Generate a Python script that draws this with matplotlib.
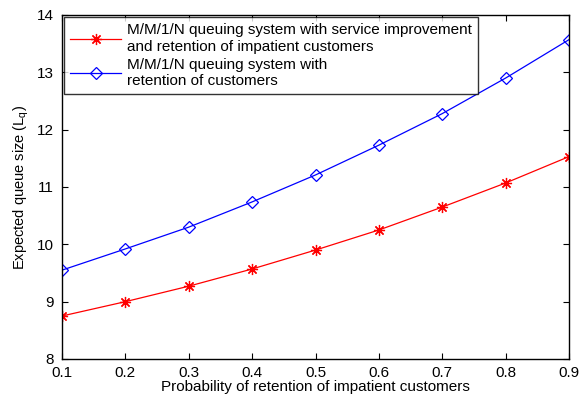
import numpy as np
import matplotlib
matplotlib.use("Agg")
import matplotlib.pyplot as plt

plt.rcParams['font.family'] = ['Liberation Sans', 'DejaVu Sans']
plt.rcParams['mathtext.fontset'] = 'custom'
plt.rcParams['mathtext.rm'] = 'Liberation Sans'
plt.rcParams['mathtext.it'] = 'Liberation Sans'

# retention probability on x, expected queue length on y
retention_prob = [0.1, 0.2, 0.3, 0.4, 0.5, 0.6, 0.7, 0.8, 0.9]
lq_service_improvement = [8.75, 9.00, 9.27, 9.57, 9.90, 10.25, 10.65, 11.07, 11.53]
lq_retention_only = [9.55, 9.92, 10.30, 10.74, 11.21, 11.73, 12.28, 12.90, 13.57]

label_improved = "M/M/1/N queuing system with service improvement\nand retention of impatient customers"
label_retention = "M/M/1/N queuing system with\nretention of customers"

fig = plt.figure(figsize=(5.81, 3.94), dpi=100)
ax = fig.add_axes([62 / 581, 35 / 394, 507 / 581, 344 / 394])

# asterisk marker (8 arms, like '+' and 'x' combined)
ax.plot(retention_prob, lq_service_improvement, color='red', linewidth=0.9,
        marker=(8, 2, 0), markersize=8, markeredgewidth=0.9,
        label=label_improved)
ax.plot(retention_prob, lq_retention_only, color='blue', linewidth=0.9,
        marker='D', markersize=6.5, markerfacecolor='none', markeredgewidth=0.9,
        label=label_retention)

ax.set_xlim(0.1, 0.9)
ax.set_ylim(8, 14)
ax.set_xticks(np.arange(0.1, 0.91, 0.1))
ax.set_xticklabels(["%.1f" % v for v in np.arange(0.1, 0.91, 0.1)])
ax.set_yticks(range(8, 15))
ax.tick_params(direction='in', top=True, right=True, labelsize=11, length=4)
ax.tick_params(axis='x', pad=5)
ax.tick_params(axis='y', pad=6)
for sp in ax.spines.values():
    sp.set_linewidth(1.0)

ax.set_xlabel("Probability of retention of impatient customers", fontsize=11, labelpad=0)
ax.set_ylabel("Expected queue size (L$_q$)", fontsize=10.5, labelpad=4)

leg = ax.legend(loc='upper left', fontsize=11, frameon=True, fancybox=False,
                edgecolor='black', borderaxespad=0.15, handlelength=3.3,
                handletextpad=0.4, labelspacing=0.3, borderpad=0.4)
leg.get_frame().set_linewidth(1.0)

fig.savefig("out.png", dpi=100)
